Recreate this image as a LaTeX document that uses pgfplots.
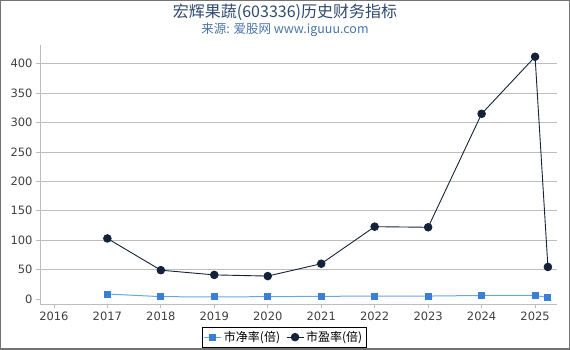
\documentclass[border=0pt]{standalone}
\usepackage{fontspec}
\setmainfont{DejaVu Sans}
\newfontfamily\cjk{Noto Sans CJK SC}
\usepackage{pgfplots}
\pgfplotsset{compat=1.18}
\usetikzlibrary{calc}
\definecolor{pbc}{HTML}{3A7FD5}
\definecolor{pbl}{HTML}{6AA5E8}
\definecolor{pec}{HTML}{14233A}
\definecolor{gridc}{HTML}{BDBDBD}
\definecolor{titc}{HTML}{2E4A6E}
\definecolor{subc}{HTML}{4A75A6}
\begin{document}
\begin{tikzpicture}
\begin{axis}[name=ax, scale only axis, width=517pt, height=259pt,
  xmin=2015.74, xmax=2025.41, ymin=-8.5, ymax=432,
  axis x line=bottom, axis y line=left,
  axis line style={gridc, -, line width=0.8pt},
  xtick={2016,2017,2018,2019,2020,2021,2022,2023,2024,2025},
  xticklabels={2016,2017,2018,2019,2020,2021,2022,2023,2024,2025},
  ytick={50,100,150,200,250,300,350,400},
  extra y ticks={0}, extra y tick style={grid=none},
  ymajorgrids, grid style={gridc, line width=0.8pt},
  tick align=outside, major tick length=4pt, tick style={gridc, line width=0.8pt},
  ticklabel style={font=\fontsize{11.5}{13}\selectfont, text=black!75},
  /pgf/number format/assume math mode=true, /pgf/number format/1000 sep={},
  legend columns=2,
  legend style={at={(0.472,-0.128)}, anchor=center, draw=black,
    font=\cjk\fontsize{12}{14}\selectfont, inner sep=2pt,
    /tikz/every even column/.append style={column sep=4pt}},
  clip=false,
]
\addplot[color=pbl, line width=1pt, mark=square*, mark size=3pt,
  mark options={fill=pbc, draw=pbc}] coordinates {
  (2017,8.5) (2018,4) (2019,3.5) (2020,4) (2021,4.5) (2022,5) (2023,5)
  (2024,6) (2025,6) (2025.24,2.5)};
\addlegendentry{市净率(倍)}
\addplot[color=pec, line width=0.9pt, mark=*, mark size=3.8pt,
  mark options={fill=pec, draw=pec}] coordinates {
  (2017,103) (2018,49) (2019,41) (2020,39) (2021,60) (2022,123) (2023,122)
  (2024,315) (2025,412) (2025.24,54.5)};
\addlegendentry{市盈率(倍)}
\end{axis}
\node[text=titc, font=\cjk\fontsize{16}{18}\selectfont] at ($(ax.south west)+(245pt,291.5pt)$) {宏辉果蔬(603336)历史财务指标};
\node[text=subc, font=\cjk\fontsize{12.5}{14}\selectfont] at ($(ax.south west)+(245pt,274pt)$) {来源: 爱股网 www.iguuu.com};
\pgfresetboundingbox
\path ($(ax.south west)+(-40pt,-46pt)$) rectangle ++(570pt,350pt);
\draw[black!55, line width=1.5pt] ($(ax.south west)+(-39.25pt,-45.25pt)$) rectangle ++(568.5pt,348.5pt);
\end{tikzpicture}
\end{document}
